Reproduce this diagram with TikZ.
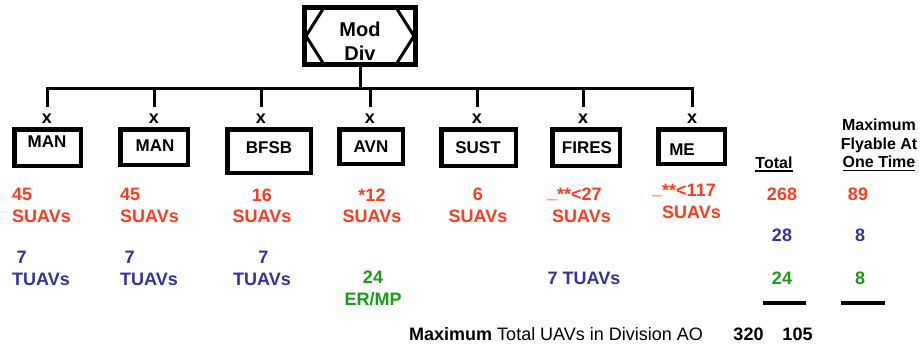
\documentclass[tikz,border=0pt]{standalone}
\usepackage{fontspec}
\setmainfont{Liberation Sans}
\usetikzlibrary{calc}
\definecolor{suavred}{RGB}{255,59,31}
\definecolor{tuavblue}{RGB}{51,51,153}
\definecolor{ergreen}{RGB}{25,155,25}

\begin{document}
\begin{tikzpicture}[x=1pt,y=-1pt,
  wire/.style={line width=3pt},
  unitbox/.style={draw, line width=4.5pt, inner sep=0pt},
  unitname/.style={font=\fontsize{17}{19}\selectfont\bfseries, inner sep=0pt, text height=12.2pt, text depth=0pt},
  echelon/.style={font=\fontsize{18}{20}\selectfont\bfseries, inner xsep=0pt, inner ysep=7pt},
  tally/.style={font=\fontsize{18}{21.5}\selectfont\bfseries, inner sep=0pt, text height=12.9pt, text depth=0pt},
  twolines/.style={text height=34.4pt, text depth=0pt},
  sred/.style={text=suavred},
  tblue/.style={text=tuavblue},
  egreen/.style={text=ergreen},
  headtext/.style={font=\fontsize{16}{18.5}\selectfont\bfseries, inner sep=0pt, text height=11.5pt, text depth=0pt},
  rulebar/.style={line width=4pt},
  ulrule/.style={line width=1.5pt}
]
\useasboundingbox[fill=white] (0,0) rectangle (921,349);

% division headquarters symbol
\node[unitbox, line width=5pt, minimum width=111pt, minimum height=57pt] (md) at (360,36) {};
\draw[line width=3pt] ($(md.center)+(-36,-28.5)$) -- ($(md.center)+(-54,0)$) -- ($(md.center)+(-36,28.5)$);
\draw[line width=3pt] ($(md.center)+(36,-28.5)$) -- ($(md.center)+(54,0)$) -- ($(md.center)+(36,28.5)$);
\node[font=\fontsize{20}{24}\selectfont\bfseries, align=center, inner sep=0pt, text height=38.3pt, text depth=0pt] (mdt) at (360,41) {Mod\\Div};

\coordinate (bus) at (360,88);

% brigade boxes
\node[unitbox, minimum width=66.5pt, minimum height=36.5pt] (man1) at (47.5,147.5) {};
\node[unitbox, minimum width=67.5pt, minimum height=35.5pt] (man2) at (154,147) {};
\node[unitbox, minimum width=83.5pt, minimum height=43.5pt] (bfsb) at (269,151) {};
\node[unitbox, minimum width=63.5pt, minimum height=34.5pt] (avn) at (371,146.5) {};
\node[unitbox, minimum width=74.5pt, minimum height=36.5pt] (sust) at (478.5,147.5) {};
\node[unitbox, minimum width=67.5pt, minimum height=36.5pt] (fires) at (586,147.5) {};
\node[unitbox, minimum width=66.5pt, minimum height=34.5pt] (me) at (691.5,146.5) {};

\node[unitname] (man1t) at (47,141.5) {MAN};
\node[unitname] (man2t) at (155,145) {MAN};
\node[unitname] (bfsbt) at (269,147) {BFSB};
\node[unitname] (avnt) at (371,146) {AVN};
\node[unitname] (sustt) at (478,147) {SUST};
\node[unitname] (firest) at (587,147) {FIRES};
\node[unitname] (met) at (682,149) {ME};

% brigade echelon marks
\node[echelon] (e1) at (47,119) {x};
\node[echelon] (e2) at (154,119) {x};
\node[echelon] (e3) at (261,119) {x};
\node[echelon] (e4) at (370,119) {x};
\node[echelon] (e5) at (477,119) {x};
\node[echelon] (e6) at (583,119) {x};
\node[echelon] (e7) at (692,119) {x};

% command lines
\draw[wire] (md.south) -- (md.south |- bus);
\draw[wire] (e1.north) |- (e7.north |- bus) -- (e7.north);
\foreach \e in {e2,e3,e4,e5,e6}
  \draw[wire] (\e.north) -- (\e.north |- bus);

% SUAV counts
\node[tally, twolines, sred, align=left, anchor=west] (s1) at (12,205) {45\\SUAVs};
\node[tally, twolines, sred, align=left, anchor=west] (s2) at (120,205) {45\\SUAVs};
\node[tally, twolines, sred, align=center] (s3) at (262,205.5) {16\\SUAVs};
\node[tally, twolines, sred, align=center] (s4) at (372,205.5) {*12\\SUAVs};
\node[tally, twolines, sred, align=center] (s5) at (478,205) {6\\SUAVs};
\node[tally, twolines, sred, align=left, anchor=west] (s6) at (547,205) {\raisebox{2.5pt}{\_}**<27\\\hspace*{5pt}SUAVs};
\node[tally, twolines, sred, align=left, anchor=west] (s7) at (652,201) {\raisebox{2.5pt}{\_}**<117\\\hspace*{10pt}SUAVs};

% TUAV and ER/MP counts
\node[tally, twolines, tblue, align=left, anchor=west] (t1) at (12,268) {\hspace*{4.5pt}7\\TUAVs};
\node[tally, twolines, tblue, align=left, anchor=west] (t2) at (120,268) {\hspace*{4.5pt}7\\TUAVs};
\node[tally, twolines, tblue, align=center] (t3) at (262,268) {\hspace*{3pt}7\\TUAVs};
\node[tally, twolines, egreen, align=center] (g4) at (373,288) {24\\ER/MP};
\node[tally, tblue] (t6) at (584,278.5) {7 TUAVs};

% totals
\node[headtext] (tot) at (774,163) {Total};
\draw[ulrule] ($(tot.south west)+(0,2)$) -- ($(tot.south east)+(0,2)$);
\node[headtext, align=center, text height=48.5pt] (fly) at (879,143.5) {Maximum\\Flyable At\\One Time};
\draw[ulrule] ($(fly.south)+(-36,2.5)$) -- ++(72,0);

\node[tally, sred] (st) at (782,194.5) {268};
\node[tally, sred] (sm) at (858,194.5) {89};
\node[tally, tblue] (tt) at (782,235.5) {28};
\node[tally, tblue] (tm) at (860,235.5) {8};
\node[tally, egreen] (gt) at (782,278.5) {24};
\node[tally, egreen] (gm) at (860,278.5) {8};
\draw[rulebar] ($(gt.south)+(-19,18)$) -- ++(43,0);
\draw[rulebar] ($(gm.south)+(-19,18)$) -- ++(44,0);

% division summary
\node[font=\fontsize{18}{20}\selectfont, anchor=west, inner sep=0pt, text height=12.9pt, text depth=0pt] (sum) at (409,334) {\textbf{Maximum} Total UAVs in Division AO};
\node[tally] (sumt) at (748.5,334) {320};
\node[tally] (summ) at (797.5,334) {105};
\end{tikzpicture}
\end{document}
